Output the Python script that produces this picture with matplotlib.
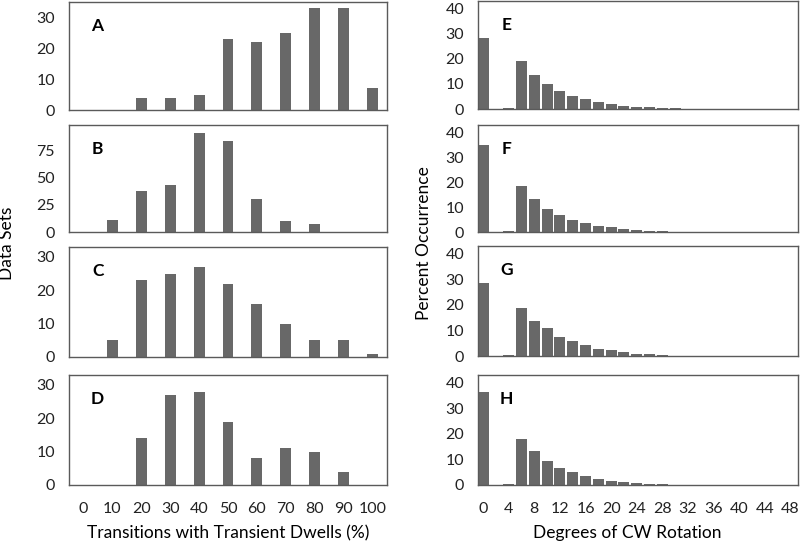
import matplotlib
matplotlib.use("Agg")
import matplotlib.pyplot as plt

plt.rcParams['font.family'] = ['Lato', 'DejaVu Sans']

# Left column: number of data sets per transient-dwell bin
dwell_bins = ['0', '10', '20', '30', '40', '50', '60', '70', '80', '90', '100']
data_A = [0, 0, 4, 4, 5, 23, 22, 25, 33, 33, 7]
data_B = [0, 11, 38, 43, 91, 83, 30, 10, 7, 0, 0]
data_C = [0, 5, 23, 25, 27, 22, 16, 10, 5, 5, 1]
data_D = [0, 0, 14, 27, 28, 19, 8, 11, 10, 4, 0]

# Right column: percent occurrence per rotation step (degrees)
degrees = [0, 2, 4, 6, 8, 10, 12, 14, 16, 18, 20, 22, 24, 26, 28, 30]
pct_E = [28.3, 0, 0.3, 19.3, 13.5, 9.8, 7.3, 5.3, 3.9, 2.9, 2.0, 1.3, 0.7, 0.6, 0.5, 0.2]
pct_F = [35.1, 0, 0.5, 18.3, 13.1, 9.2, 6.8, 4.9, 3.5, 2.4, 1.9, 1.3, 0.9, 0.5, 0.3, 0]
pct_G = [28.4, 0, 0.5, 18.6, 13.7, 10.9, 7.6, 6.0, 4.3, 2.9, 2.3, 1.6, 0.9, 0.65, 0.5, 0]
pct_H = [36.4, 0, 0.5, 18.1, 13.2, 9.5, 6.8, 5.1, 3.4, 2.3, 1.7, 1.2, 0.9, 0.5, 0.3, 0]
deg_ticks = list(range(0, 49, 4))

W, H = 800, 544
fig = plt.figure(figsize=(W / 100, H / 100), dpi=100)

bar_color = '#686868'
spine_color = '#5a5a5a'


def px_axes(x0, x1, top, bottom):
    return fig.add_axes([x0 / W, 1 - bottom / H, (x1 - x0) / W, (bottom - top) / H])


def style(ax, letter, yticks, ylim, show_x):
    for s in ax.spines.values():
        s.set_color(spine_color)
        s.set_linewidth(1.0)
    ax.set_ylim(*ylim)
    ax.set_yticks(yticks)
    ax.tick_params(length=0, labelsize=11.5, colors='#222222')
    ax.tick_params(axis='y', pad=10)
    ax.tick_params(axis='x', pad=12)
    if not show_x:
        ax.set_xticklabels([])
    ax.text(0.09, 0.78, letter, transform=ax.transAxes, fontsize=12.5,
            fontweight='bold', ha='center', va='center')


left_sets = [(data_A, 'A', 2, 110, [0, 10, 20, 30], (0, 35)),
             (data_B, 'B', 125, 232, [0, 25, 50, 75], (0, 98)),
             (data_C, 'C', 247, 357, [0, 10, 20, 30], (0, 33)),
             (data_D, 'D', 375, 485, [0, 10, 20, 30], (0, 33))]
for i, (vals, letter, top, bottom, yt, yl) in enumerate(left_sets):
    ax = px_axes(69, 387, top, bottom)
    ax.bar(range(len(dwell_bins)), vals, width=0.38, color=bar_color)
    ax.set_xlim(-0.5, len(dwell_bins) - 0.5)
    ax.set_xticks(range(len(dwell_bins)))
    ax.set_xticklabels(dwell_bins)
    style(ax, letter, yt, yl, i == 3)

right_sets = [(pct_E, 'E', 1, 109), (pct_F, 'F', 125, 232),
              (pct_G, 'G', 246, 356), (pct_H, 'H', 375, 485)]
for i, (vals, letter, top, bottom) in enumerate(right_sets):
    ax = px_axes(478, 798, top, bottom)
    ax.bar(degrees, vals, width=1.7, color=bar_color)
    ax.set_xlim(-0.8, 49.2)
    ax.set_xticks(deg_ticks)
    style(ax, letter, [0, 10, 20, 30, 40], (0, 43), i == 3)

fig.text(7 / W, 1 - 243 / H, 'Data Sets', rotation=90, ha='center', va='center', fontsize=12.5)
fig.text(424 / W, 1 - 243 / H, 'Percent Occurrence', rotation=90, ha='center', va='center', fontsize=12.5)
fig.text(228 / W, 1 - 533 / H, 'Transitions with Transient Dwells (%)', ha='center', va='center', fontsize=12.5)
fig.text(627 / W, 1 - 533 / H, 'Degrees of CW Rotation', ha='center', va='center', fontsize=12.5)

fig.savefig('out.png', dpi=100)
